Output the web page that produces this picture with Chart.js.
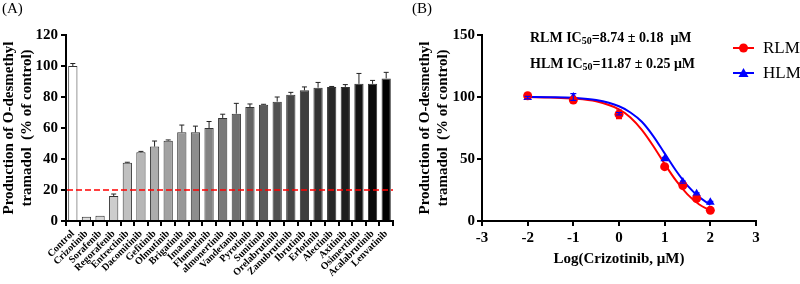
<!DOCTYPE html>
<html><head><meta charset="utf-8">
<script src="https://cdn.jsdelivr.net/npm/chart.js@4.4.1/dist/chart.umd.min.js"></script>
<style>
html,body{margin:0;padding:0;background:#fff;width:800px;height:284px;overflow:hidden}
canvas{position:absolute;top:0}
#cA{left:0}#cB{left:400px}
</style></head>
<body>
<canvas id="cA" width="400" height="284"></canvas>
<canvas id="cB" width="400" height="284"></canvas>
<script>
// ---------- Panel A data ----------
const categories = ['Control','Crizotinib','Sorafenib','Regorafenib','Entrectinib','Dacomitinib','Gefitinib','Olmutinib','Brigatinib','Imatinib','Flumatinib','almonertinib','Vandetanib','Pyrotinib','Sunitinib','Orelabrutinib','Zanubrutinib','Ibrutinib','Erlotinib','Alectinib','Axitinib','Osimertinib','Acalabrutinib','Lenvatinib'];
const production = [100, 2.8, 3.4, 16.1, 37.6, 44.3, 48, 51.8, 57.2, 57.2, 60, 66.5, 69.2, 73.5, 75, 77, 81.5, 84.3, 86, 86.5, 86.5, 88.5, 88.5, 92];
const productionErr = [1.6, 0, 0, 1.3, 0.3, 0.6, 3.6, 0.5, 4.7, 4, 4.2, 2.4, 6.7, 2, 0.3, 3, 1.5, 2.2, 3.4, 0.3, 1.5, 6.7, 2.2, 3.9];
const barGray = [255, 220, 215, 205, 192, 182, 172, 162, 152, 141, 131, 121, 111, 101, 91, 81, 71, 61, 51, 40, 30, 20, 10, 0];
const thresholdValue = 20;

// ---------- Panel B data ----------
const logConc = [-2, -1, 0, 1, 1.398, 1.699, 2];
const rlmMean = [101, 97.5, 86, 43.8, 28.6, 18.1, 8.6];
const rlmErr  = [0.8, 1.5, 3.5, 1, 1, 1, 0.8];
const hlmMean = [99.5, 100, 86.5, 50.3, 31.4, 21.9, 15.1];
const hlmErr  = [1, 2.7, 1, 1, 0.8, 0.8, 0.8];
const curveX   = [-2, -1.5, -1, -0.5, 0, 0.25, 0.5, 0.75, 1, 1.25, 1.5, 1.75, 2];
const rlmCurve = [100, 99.6, 98.8, 96.5, 90, 83.5, 73.5, 60.5, 46, 32.5, 21.5, 13.5, 8.5];
const hlmCurve = [100, 99.8, 99.3, 97.5, 92.5, 87.5, 80, 68.5, 54.5, 40.5, 28.5, 19.5, 13];

const SERIF = "'Liberation Serif','Times New Roman',serif";
const boldF = s => ({family: SERIF, size: s, weight: 'bold'});

// ---------- Panel A ----------
const pluginA = {
  id: 'extrasA',
  afterDatasetsDraw(chart) {
    const ctx = chart.ctx, ys = chart.scales.y, meta = chart.getDatasetMeta(0);
    ctx.save();
    ctx.strokeStyle = '#222'; ctx.lineWidth = 1;
    productionErr.forEach((e, i) => {
      if (!e) return;
      const bar = meta.data[i];
      const y0 = ys.getPixelForValue(production[i]);
      const y1 = ys.getPixelForValue(production[i] + e);
      ctx.beginPath();
      ctx.moveTo(bar.x, y0); ctx.lineTo(bar.x, y1);
      ctx.moveTo(bar.x - 2.5, y1); ctx.lineTo(bar.x + 2.5, y1);
      ctx.stroke();
    });
    const ca = chart.chartArea, yt = ys.getPixelForValue(thresholdValue);
    ctx.strokeStyle = '#ff0000'; ctx.lineWidth = 1.5; ctx.setLineDash([6, 3]);
    ctx.beginPath(); ctx.moveTo(ca.left + 1, yt); ctx.lineTo(ca.right, yt); ctx.stroke();
    ctx.restore();
  },
  afterDraw(chart) {
    const ctx = chart.ctx;
    ctx.save();
    ctx.fillStyle = '#000'; ctx.font = '15px ' + SERIF; ctx.textBaseline = 'middle';
    ctx.fillText('(A)', 2, 9);
    ctx.restore();
  }
};

new Chart(document.getElementById('cA'), {
  type: 'bar',
  data: {
    labels: categories,
    datasets: [{
      data: production,
      backgroundColor: barGray.map(g => `rgb(${g},${g},${g})`),
      borderColor: '#333',
      borderWidth: 1,
      barPercentage: 0.68,
      categoryPercentage: 1
    }]
  },
  options: {
    responsive: false, animation: false, devicePixelRatio: 1,
    layout: {padding: {left: 0, top: 35, right: 7, bottom: 0}},
    plugins: {legend: {display: false}, tooltip: {enabled: false}},
    scales: {
      y: {
        min: 0, max: 120,
        ticks: {stepSize: 20, font: boldF(15), color: '#000', padding: 3},
        grid: {drawOnChartArea: false, drawTicks: true, tickLength: 5, color: '#000', lineWidth: 2},
        border: {color: '#000', width: 2},
        title: {display: true, text: ['Production of O-desmethyl', 'tramadol  (% of control)'], font: boldF(15), color: '#000', padding: 0},
        afterFit: s => { s.width = 66; }
      },
      x: {
        ticks: {font: boldF(10), color: '#000', minRotation: 45, maxRotation: 45, autoSkip: false, padding: 2},
        grid: {drawOnChartArea: false, drawTicks: true, tickLength: 5, color: '#000', lineWidth: 2},
        border: {color: '#000', width: 2},
        afterFit: s => { s.height = 63; }
      }
    }
  },
  plugins: [pluginA]
});

// ---------- Panel B ----------
function drawMarker(ctx, style, x, y, color) {
  ctx.fillStyle = color;
  ctx.beginPath();
  if (style === 'circle') {
    ctx.arc(x, y, 4.5, 0, Math.PI * 2);
  } else {
    ctx.moveTo(x, y - 5); ctx.lineTo(x + 5, y + 4); ctx.lineTo(x - 5, y + 4); ctx.closePath();
  }
  ctx.fill();
}
function drawParts(ctx, x, y, parts) {
  parts.forEach(p => {
    ctx.font = 'bold ' + p.size + 'px ' + SERIF;
    ctx.fillText(p.t, x, y + (p.dy || 0));
    x += ctx.measureText(p.t).width;
  });
}
const pluginB = {
  id: 'extrasB',
  afterDatasetsDraw(chart) {
    const ctx = chart.ctx, xs = chart.scales.x, ys = chart.scales.y;
    ctx.save(); ctx.lineWidth = 1.2;
    [[rlmMean, rlmErr, '#ff0000'], [hlmMean, hlmErr, '#0000ff']].forEach(([m, e, c]) => {
      ctx.strokeStyle = c;
      m.forEach((v, i) => {
        const x = xs.getPixelForValue(logConc[i]);
        const y0 = ys.getPixelForValue(v - e[i]), y1 = ys.getPixelForValue(v + e[i]);
        ctx.beginPath();
        ctx.moveTo(x, y0); ctx.lineTo(x, y1);
        ctx.moveTo(x - 3, y0); ctx.lineTo(x + 3, y0);
        ctx.moveTo(x - 3, y1); ctx.lineTo(x + 3, y1);
        ctx.stroke();
      });
    });
    ctx.restore();
  },
  afterDraw(chart) {
    const ctx = chart.ctx;
    ctx.save();
    ctx.fillStyle = '#000'; ctx.textBaseline = 'middle';
    ctx.font = '15px ' + SERIF;
    ctx.fillText('(B)', 12, 9);
    drawParts(ctx, 130, 38, [{t: 'RLM IC', size: 14}, {t: '50', size: 10, dy: 3}, {t: '=8.74 ± 0.18  μM', size: 14}]);
    drawParts(ctx, 130, 64, [{t: 'HLM IC', size: 14}, {t: '50', size: 10, dy: 3}, {t: '=11.87 ± 0.25 μM', size: 14}]);
    // legend
    [['RLM', '#ff0000', 'circle', 48], ['HLM', '#0000ff', 'triangle', 73]].forEach(([lab, c, st, y]) => {
      ctx.strokeStyle = c; ctx.lineWidth = 2;
      ctx.beginPath(); ctx.moveTo(333, y); ctx.lineTo(354, y); ctx.stroke();
      drawMarker(ctx, st, 343.5, y, c);
      ctx.fillStyle = '#000'; ctx.font = '17px ' + SERIF; ctx.textBaseline = 'middle';
      ctx.fillText(lab, 363, y + 1);
    });
    ctx.restore();
  }
};

const toXY = (xs, ys) => xs.map((x, i) => ({x, y: ys[i]}));

new Chart(document.getElementById('cB'), {
  type: 'scatter',
  data: {
    datasets: [
      {label: 'RLM', data: toXY(logConc, rlmMean), pointStyle: 'circle', pointRadius: 4.5, backgroundColor: '#ff0000', borderColor: '#ff0000', borderWidth: 0, order: 0},
      {label: 'HLM', data: toXY(logConc, hlmMean), pointStyle: 'triangle', pointRadius: 5, backgroundColor: '#0000ff', borderColor: '#0000ff', borderWidth: 0, order: 1},
      {type: 'line', label: 'HLM fit', data: toXY(curveX, hlmCurve), borderColor: '#0000ff', borderWidth: 2, pointRadius: 0, cubicInterpolationMode: 'monotone', fill: false, order: 2},
      {type: 'line', label: 'RLM fit', data: toXY(curveX, rlmCurve), borderColor: '#ff0000', borderWidth: 2, pointRadius: 0, cubicInterpolationMode: 'monotone', fill: false, order: 3}
    ]
  },
  options: {
    responsive: false, animation: false, devicePixelRatio: 1,
    layout: {padding: {left: 16, top: 35, right: 44, bottom: 0}},
    plugins: {legend: {display: false}, tooltip: {enabled: false}},
    scales: {
      y: {
        min: 0, max: 150,
        ticks: {stepSize: 50, font: boldF(15), color: '#000', padding: 2},
        grid: {drawOnChartArea: false, drawTicks: true, tickLength: 5, color: '#000', lineWidth: 2},
        border: {color: '#000', width: 2},
        title: {display: true, text: ['Production of O-desmethyl', 'tramadol  (% of control)'], font: boldF(15), color: '#000', padding: 0},
        afterFit: s => { s.width = 66; }
      },
      x: {
        type: 'linear', min: -3, max: 3,
        ticks: {stepSize: 1, font: boldF(15), color: '#000', padding: 3},
        grid: {drawOnChartArea: false, drawTicks: true, tickLength: 5, color: '#000', lineWidth: 2},
        border: {color: '#000', width: 2},
        title: {display: true, text: 'Log(Crizotinib, μM)', font: boldF(15), color: '#000', padding: {top: 0, bottom: 16}},
        afterFit: s => { s.height = 63; }
      }
    }
  },
  plugins: [pluginB]
});
</script>
</body></html>
